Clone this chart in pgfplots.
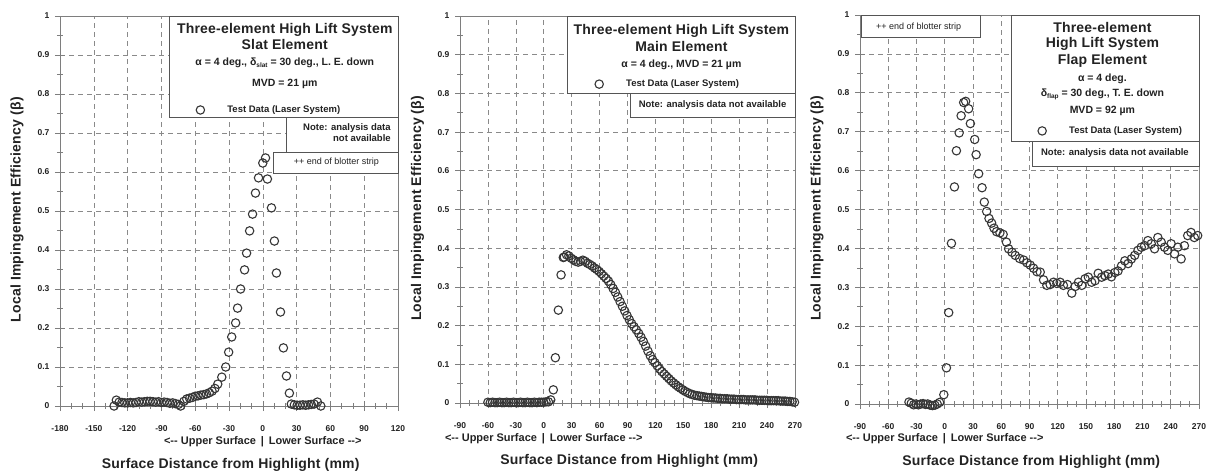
\documentclass[border=0pt]{standalone}
\usepackage{pgfplots}
\pgfplotsset{compat=1.18}
\usepackage{fontspec}
\setmainfont{Liberation Sans}
\newfontfamily\widefont[LetterSpace=1.5]{Liberation Sans}

\definecolor{ink}{HTML}{222222}
\definecolor{gridgray}{HTML}{8A8A8A}
\definecolor{framegray}{HTML}{7E7E7E}
\definecolor{boxline}{HTML}{555555}
\definecolor{markgray}{HTML}{363636}

\newcommand{\fs}[1]{\fontsize{#1}{#1}\selectfont}
\newcommand{\sub}[1]{\raisebox{-0.35ex}{\fs{6.5}#1}}

\tikzset{
  infobox/.style={draw=boxline, line width=0.8pt, fill=white},
  title line/.style={font=\widefont\bfseries\fs{14}, text=ink, inner sep=0pt},
  sub line/.style={font=\bfseries\fs{10.5}, text=ink, inner sep=0pt},
  note line/.style={font=\bfseries\fs{9.5}, text=ink, inner sep=0pt},
  strip line/.style={font=\fs{9}, text=ink, inner sep=0pt},
  side line/.style={font=\bfseries\fs{11}, text=ink, inner sep=0pt},
}

\pgfplotsset{
  beta panel/.style={
    scale only axis, clip=false,
    ymin=0, ymax=1,
    ytick={0,0.1,0.2,0.3,0.4,0.5,0.6,0.7,0.8,0.9,1},
    yticklabels={0,0.1,0.2,0.3,0.4,0.5,0.6,0.7,0.8,0.9,1},
    minor y tick num=1, minor x tick num=2,
    tick pos=left,
    tick align=center,
    major tick length=10pt, minor tick length=6pt,
    tick style={framegray, line width=0.6pt},
    axis line style={framegray, line width=0.8pt},
    grid=major,
    major grid style={gridgray, line width=0.6pt, dash pattern=on 5pt off 4pt},
    every tick label/.append style={font=\bfseries\fs{8.5}, text=ink},
    yticklabel style={xshift=-2pt},
    xticklabel style={yshift=-11pt},
    xlabel={Surface Distance from Highlight (mm)},
    ylabel={Local Impingement Efficiency (β)},
    xlabel style={at={(axis description cs:0.505,-0.150)}, anchor=center,
      font=\widefont\bfseries\fs{14}, text=ink},
    ylabel style={at={(axis description cs:-0.127,0.503)}, anchor=center,
      font=\widefont\bfseries\fs{14}, text=ink},
    legend style={draw=none, fill=none, inner sep=0pt, row sep=0pt,
      font=\bfseries\fs{9.5}, text=ink, nodes={inner sep=1pt}, anchor=west},
  },
  beta data/.style={only marks, mark=o, mark size=4.2pt,
    color=markgray, mark options={line width=1.1pt},
    legend image code/.code={%
      \draw[##1] plot coordinates {(0pt,0pt)};
      \path[draw=none, fill=none] (-5pt,-3pt) rectangle (26pt,3pt);}},
}

\begin{document}
\begin{tikzpicture}
\useasboundingbox (0pt,0pt) rectangle (1211pt,472pt);

% ---------------- Slat element ----------------
\begin{axis}[beta panel,
  at={(60pt,66pt)}, anchor=south west, width=338pt, height=390pt,
  xmin=-180, xmax=120,
  xtick={-180,-150,-120,-90,-60,-30,0,30,60,90,120},
  xticklabels={-180,-150,-120,-90,-60,-30,0,30,60,90,120},
  legend style={at={(axis description cs:0.400,0.759)}},
]
\addplot[beta data] coordinates {
(-132,0.000)(-130,0.015)(-127.5,0.010)(-125,0.009)(-122.5,0.008)(-120,0.008)
(-117.5,0.009)(-115,0.008)(-112.5,0.009)(-110,0.011)(-107.5,0.010)(-105,0.011)
(-102.5,0.012)(-100,0.012)(-97.5,0.011)(-95,0.010)(-92.5,0.011)(-90,0.009)
(-87.5,0.010)(-85,0.009)(-82.5,0.007)(-80,0.008)(-77.5,0.006)(-75,0.004)
(-73,0.000)(-70,0.012)(-67.5,0.018)(-65,0.020)(-62.5,0.022)(-60,0.025)
(-57.5,0.026)(-55,0.028)(-52.5,0.029)(-50,0.031)(-47.5,0.034)(-45,0.038)
(-42.5,0.045)(-40,0.056)(-36.4,0.074)(-32.9,0.100)(-30.3,0.138)(-27.6,0.177)
(-24.1,0.213)(-22.4,0.251)(-19.7,0.300)(-16.2,0.349)(-14.4,0.392)(-11.7,0.449)
(-9.1,0.492)(-6.5,0.546)(-3.8,0.585)(0,0.623)(2.4,0.636)(4.1,0.582)
(7.7,0.508)(10.3,0.423)(12.1,0.341)(15.7,0.241)(18.3,0.149)(21,0.077)
(23.6,0.033)(25.3,0.005)(28,0.003)(30.5,0.002)(33,0.002)(35.5,0.003)
(38,0.002)(40.5,0.003)(43,0.004)(45.5,0.005)(48.5,0.010)(51.5,0.000)
};
\addlegendentry{Test Data (Laser System)}
\draw[infobox] (axis description cs:0.325,0.741) rectangle (axis description cs:1,1);
\draw[infobox] (axis description cs:0.669,0.651) rectangle (axis description cs:1,0.741);
\draw[infobox] (axis description cs:0.630,0.597) rectangle (axis description cs:1,0.651);
\node[title line] at (axis description cs:0.665,0.964) {Three-element High Lift System};
\node[title line] at (axis description cs:0.665,0.926) {Slat Element};
\node[sub line] at (axis description cs:0.665,0.879) {α = 4 deg., δ\sub{slat} = 30 deg., L. E. down};
\node[sub line] at (axis description cs:0.665,0.826) {MVD = 21 µm};
\node[note line, anchor=east] at (axis description cs:0.979,0.713) {Note: analysis data};
\node[note line, anchor=east] at (axis description cs:0.979,0.687) {not available};
\node[strip line] at (axis description cs:0.818,0.626) {++ end of blotter strip};
\node[side line] at (axis cs:0,-0.092) {<-{}- Upper Surface \,|\, Lower Surface -{}->};
\end{axis}

% ---------------- Main element ----------------
\begin{axis}[beta panel,
  at={(460pt,69pt)}, anchor=south west, width=335pt, height=387pt,
  xmin=-90, xmax=270,
  xtick={-90,-60,-30,0,30,60,90,120,150,180,210,240,270},
  xticklabels={-90,-60,-30,0,30,60,90,120,150,180,210,240,270},
  legend style={at={(axis description cs:0.400,0.824)}},
]
\addplot[beta data] coordinates {
(-60,0.002)(-57.5,0.001)(-55,0.002)(-52.5,0.001)(-50,0.001)(-47.5,0.002)
(-45,0.001)(-42.5,0.001)(-40,0.002)(-37.5,0.001)(-35,0.001)(-32.5,0.002)
(-30,0.001)(-27.5,0.001)(-25,0.002)(-22.5,0.001)(-20,0.001)(-17.5,0.002)
(-15,0.001)(-12.5,0.001)(-10,0.002)(-7.5,0.001)(-5,0.002)(-2.5,0.002)
(0,0.002)(2.5,0.003)(5,0.003)(7.5,0.008)(10.3,0.034)(12.5,0.117)
(15.7,0.240)(18.6,0.331)(21,0.376)
(22,0.377)(24.5,0.383)(27,0.380)(29.5,0.374)(32,0.370)(34.5,0.366)
(37,0.364)(39.5,0.366)(42,0.369)(44.5,0.366)(47,0.361)(49.5,0.358)
(52,0.354)(54.5,0.349)(57,0.345)(59.5,0.340)(62,0.334)(64.5,0.328)
(67,0.322)(69.5,0.315)(72,0.306)(74.5,0.296)(77,0.286)(79.5,0.274)
(82,0.262)(84.5,0.250)(87,0.238)(89.5,0.226)(92,0.215)(94.5,0.205)
(97,0.197)(99.5,0.189)(102,0.180)(104.5,0.170)(107,0.159)(109.5,0.147)
(112,0.134)(114.5,0.122)(117,0.112)(119.5,0.104)(122,0.096)(124.5,0.088)
(127,0.081)(129.5,0.075)(132,0.069)(134.5,0.063)(137,0.057)(139.5,0.052)
(142,0.047)(144.5,0.042)(147,0.038)(149.5,0.034)(152,0.030)(154.5,0.027)
(157,0.024)(159.5,0.022)(162,0.020)(164.5,0.019)(167,0.018)(169.5,0.017)
(172,0.016)(174.5,0.015)(177,0.014)(179.5,0.014)(182,0.013)(184.5,0.013)
(187,0.012)(189.5,0.012)(192,0.011)(194.5,0.011)(197,0.011)(199.5,0.010)
(202,0.010)(204.5,0.010)(207,0.009)(209.5,0.009)(212,0.009)(214.5,0.009)
(217,0.008)(219.5,0.008)(222,0.008)(224.5,0.008)(227,0.008)(229.5,0.007)
(232,0.007)(234.5,0.007)(237,0.007)(239.5,0.007)(242,0.006)(244.5,0.006)
(247,0.006)(249.5,0.006)(252,0.006)(254.5,0.005)(257,0.005)(259.5,0.005)
(262,0.004)(264.5,0.004)(267,0.003)(269.5,0.002)
};
\addlegendentry{Test Data (Laser System)}
\draw[infobox] (axis description cs:0.322,0.801) rectangle (axis description cs:1,1);
\draw[infobox] (axis description cs:0.510,0.739) rectangle (axis description cs:1,0.801);
\node[title line] at (axis description cs:0.661,0.961) {Three-element High Lift System};
\node[title line] at (axis description cs:0.661,0.920) {Main Element};
\node[sub line] at (axis description cs:0.661,0.873) {α = 4 deg., MVD = 21 µm};
\node[note line] at (axis description cs:0.754,0.770) {Note: analysis data not available};
\node[side line] at (axis cs:0,-0.093) {<-{}- Upper Surface \,|\, Lower Surface -{}->};
\end{axis}

% ---------------- Flap element ----------------
\begin{axis}[beta panel,
  at={(860pt,68pt)}, anchor=south west, width=339pt, height=389pt,
  xmin=-90, xmax=270,
  xtick={-90,-60,-30,0,30,60,90,120,150,180,210,240,270},
  xticklabels={-90,-60,-30,0,30,60,90,120,150,180,210,240,270},
  legend style={at={(axis description cs:0.522,0.702)}},
]
\addplot[beta data] coordinates {
(-38,0.005)(-35.5,0.002)(-33,-0.002)(-30.5,0.000)(-28,-0.002)(-25.5,0.000)
(-23,0.001)(-20.5,-0.001)(-18,0.000)(-15.5,-0.003)(-13,-0.004)(-10.5,-0.003)
(-8,0.000)(-5.5,0.004)(-1,0.024)(1.8,0.093)(4.2,0.235)(7.1,0.413)
(10.3,0.558)(12.4,0.651)(15.3,0.697)(17.4,0.741)(20.1,0.775)(22.2,0.778)
(25.4,0.759)(27.2,0.721)(31.8,0.680)(33.3,0.641)(36,0.592)(39.6,0.556)
(42,0.519)(44.5,0.495)(47,0.477)(49.8,0.465)(52.3,0.452)(55,0.443)
(58.6,0.440)(62,0.436)(65.5,0.416)(67.8,0.399)(71.4,0.390)(74.9,0.382)
(79.5,0.374)(83.8,0.370)(87.3,0.363)(90.8,0.357)(94.3,0.349)(97.9,0.340)
(101.4,0.339)(104.9,0.319)(108.4,0.305)(111.9,0.307)(115.5,0.313)(119,0.310)
(122.5,0.313)(126,0.305)(130.3,0.307)(134.9,0.285)(138.4,0.302)(142,0.313)
(145.5,0.305)(149,0.322)(152.5,0.326)(156,0.313)(159.6,0.317)(163,0.336)
(166.6,0.326)(170.1,0.330)(173.6,0.334)(177,0.327)(180.6,0.338)(184,0.342)
(187.7,0.355)(191.2,0.368)(194.7,0.361)(198.2,0.373)(201.7,0.382)(205.2,0.395)
(208.7,0.403)(212.3,0.407)(215.8,0.420)(219.3,0.412)(222.8,0.399)(226.3,0.428)
(229.9,0.416)(233.4,0.403)(236.9,0.395)(240.4,0.412)(244,0.386)(247.5,0.403)
(251,0.373)(254.5,0.407)(258,0.433)(261.5,0.441)(265,0.428)(268.6,0.433)
};
\addlegendentry{Test Data (Laser System)}
\draw[infobox] (axis description cs:0.003,0.943) rectangle (axis description cs:0.354,1);
\draw[infobox] (axis description cs:0.448,0.676) rectangle (axis description cs:1,1);
\draw[infobox] (axis description cs:0.510,0.612) rectangle (axis description cs:1,0.676);
\node[strip line] at (axis description cs:0.173,0.969) {++ end of blotter strip};
\node[title line] at (axis description cs:0.715,0.969) {Three-element};
\node[title line] at (axis description cs:0.715,0.925) {High Lift System};
\node[title line] at (axis description cs:0.715,0.882) {Flap Element};
\node[sub line] at (axis description cs:0.715,0.835) {α = 4 deg.};
\node[sub line] at (axis description cs:0.715,0.795) {δ\sub{flap} = 30 deg., T. E. down};
\node[sub line] at (axis description cs:0.715,0.753) {MVD = 92 µm};
\node[note line] at (axis description cs:0.752,0.645) {Note: analysis data not available};
\node[side line] at (axis cs:0,-0.090) {<-{}- Upper Surface \,|\, Lower Surface -{}->};
\end{axis}
\end{tikzpicture}
\end{document}
